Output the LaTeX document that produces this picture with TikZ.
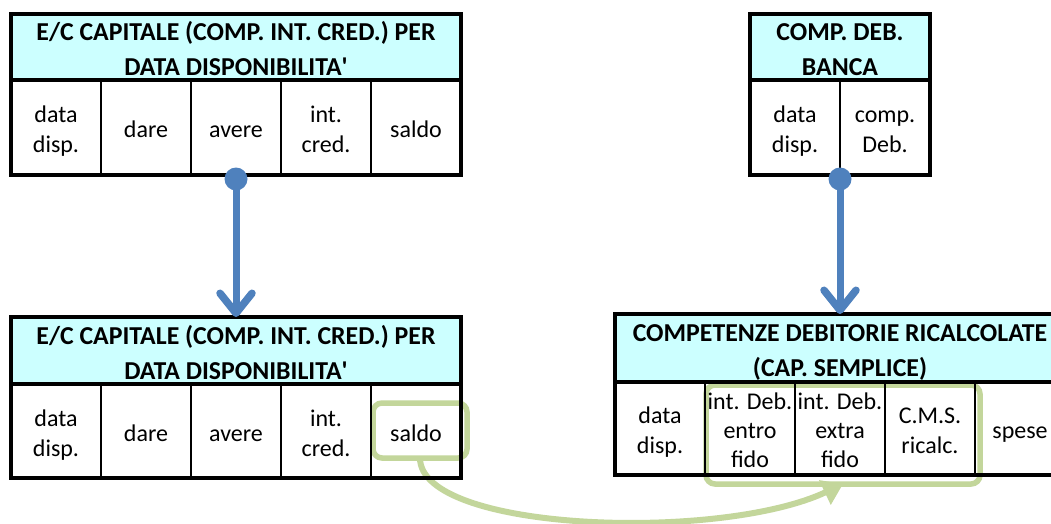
\documentclass[tikz,border=0pt]{standalone}
\usepackage{fontspec}
\setmainfont{Carlito}
\usetikzlibrary{arrows.meta}
\definecolor{hcyan}{RGB}{204,255,255}
\definecolor{xblue}{RGB}{79,129,189}
\definecolor{xgreen}{RGB}{195,214,155}
\newcommand{\hdrfont}{\fontsize{25.8}{35}\selectfont\bfseries}
\newcommand{\cellfont}{\fontsize{24}{30}\selectfont}
\newcommand{\cellfontc}{\fontsize{24}{29}\selectfont}
\newcommand{\ap}{\textquotesingle}
% struts fixing the top of the first line and the bottom of the last line
\newcommand{\tp}{\rule{0pt}{28pt}}
\newcommand{\bt}{\rule[-8pt]{0pt}{8pt}}
\newcommand{\htp}{\rule{0pt}{26pt}}
\newcommand{\hbt}{\rule[-4pt]{0pt}{4pt}}
\tikzset{
  hdr/.style={fill=hcyan, inner sep=0pt, outer sep=0pt, align=center, font=\hdrfont},
  cell/.style={draw=black, line width=2pt, inner sep=0pt, outer sep=0pt, align=center,
               minimum width=90pt, font=\cellfont},
  border/.style={draw=black, line width=4pt},
  bluearrow/.style={draw=xblue, line width=7pt, -{Straight Barb[length=20pt,width=32pt,line width=7.5pt,round]}},
  bluedot/.style={fill=xblue},
  gbox/.style={draw=xgreen, line width=5.5pt, rounded corners=9pt, inner sep=0pt, outer sep=0pt},
  garrow/.style={draw=xgreen, line width=6pt, -{Triangle[length=20pt,width=26pt]}},
}
\begin{document}
\begin{tikzpicture}[x=1pt,y=-1pt]
\useasboundingbox (0,0) rectangle (1051,524);
\clip (0,0) rectangle (1051,524);
\fill[white] (0,0) rectangle (1051,524);

% green highlights (drawn below the tables)
\node[gbox, minimum width=94pt, minimum height=55pt] (g1) at (420,430.5) {};
\node[gbox, minimum width=274pt, minimum height=99pt] (g2) at (843,434.5) {};
\draw[garrow] (g1.south) .. controls (420,532) and (720,542) .. (g2.south);

% Table A (top left)
\node[hdr, minimum width=450pt, minimum height=66pt] (A-h) at (236,47) {\htp E/C CAPITALE (COMP. INT. CRED.) PER\\DATA DISPONIBILITA\ap\hbt};
\node[cell, minimum height=94pt] (A-1) at (56,127.5) {\tp data\\disp.\bt};
\node[cell, minimum height=94pt] (A-2) at (146,127.5) {\tp dare\bt};
\node[cell, minimum height=94pt] (A-3) at (236,127.5) {\tp avere\bt};
\node[cell, minimum height=94pt] (A-4) at (326,127.5) {\tp int.\\cred.\bt};
\node[cell, minimum height=94pt] (A-5) at (416,127.5) {\tp saldo\bt};
\draw[border] (A-h.north west) rectangle (A-5.south east);
\draw[border] (A-h.south west) -- (A-h.south east);

% Table B (top right)
\node[hdr, minimum width=180pt, minimum height=66pt] (B-h) at (840,47) {\htp COMP. DEB.\\BANCA\hbt};
\node[cell, minimum height=94pt] (B-1) at (795,127.5) {\tp data\\disp.\bt};
\node[cell, minimum height=94pt] (B-2) at (885,127.5) {\tp comp.\\Deb.\bt};
\draw[border] (B-h.north west) rectangle (B-2.south east);
\draw[border] (B-h.south west) -- (B-h.south east);

% Table C (bottom left)
\node[hdr, minimum width=450pt, minimum height=67pt] (C-h) at (236,350.5) {\htp E/C CAPITALE (COMP. INT. CRED.) PER\\DATA DISPONIBILITA\ap\hbt};
\node[cell, minimum height=94pt] (C-1) at (56,431) {\tp data\\disp.\bt};
\node[cell, minimum height=94pt] (C-2) at (146,431) {\tp dare\bt};
\node[cell, minimum height=94pt] (C-3) at (236,431) {\tp avere\bt};
\node[cell, minimum height=94pt] (C-4) at (326,431) {\tp int.\\cred.\bt};
\node[cell, minimum height=94pt] (C-5) at (416,431) {\tp saldo\bt};
\draw[border] (C-h.north west) rectangle (C-5.south east);
\draw[border] (C-h.south west) -- (C-h.south east);

% Table D (bottom right)
\node[hdr, minimum width=450pt, minimum height=68pt] (D-h) at (840,348) {\htp COMPETENZE DEBITORIE RICALCOLATE\\(CAP. SEMPLICE)\hbt};
\node[cell, minimum height=93pt] (D-1) at (660,428.5) {\tp data\\disp.\bt};
\node[cell, minimum height=93pt, font=\cellfontc] (D-2) at (750,428.5) {\tp int. Deb.\\entro\\fido\bt};
\node[cell, minimum height=93pt, font=\cellfontc] (D-3) at (840,428.5) {\tp int. Deb.\\extra\\fido\bt};
\node[cell, minimum height=93pt] (D-4) at (930,428.5) {\tp C.M.S.\\ricalc.\bt};
\node[cell, minimum height=93pt] (D-5) at (1020,428.5) {\tp spese\bt};
\draw[border] (D-h.north west) rectangle (D-5.south east);
\draw[border] (D-h.south west) -- (D-h.south east);

% blue connectors
\draw[bluearrow] (A-3.south) -- (C-h.north);
\fill[bluedot] (A-3.south) ++(0,4.5) circle (11.5);
\draw[bluearrow] (B-1.south east) -- (D-h.north);
\fill[bluedot] (B-1.south east) ++(0,4.5) circle (11.5);
\end{tikzpicture}
\end{document}
